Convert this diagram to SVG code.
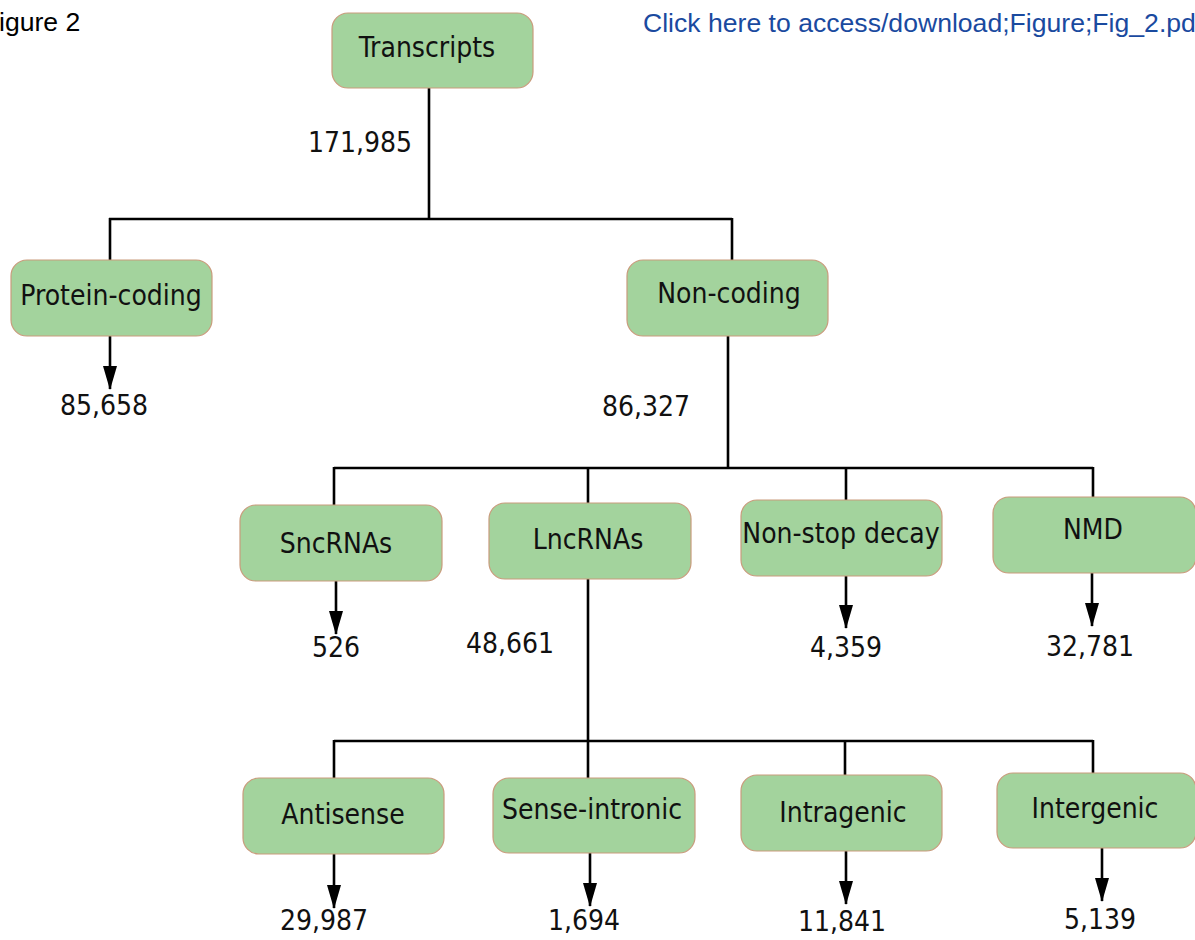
<svg xmlns="http://www.w3.org/2000/svg" width="1195" height="940" viewBox="0 0 1195 940">
<defs>
<style>
.box{fill:#a3d39d;stroke:#c99b7c;stroke-width:1.2}
.lbl{font-family:'DejaVu Sans Condensed','DejaVu Sans',sans-serif;font-stretch:condensed;font-size:28px;fill:#111;text-anchor:middle}
.num{font-family:'DejaVu Sans Condensed','DejaVu Sans',sans-serif;font-stretch:condensed;font-size:28px;fill:#111;text-anchor:middle}
.hdr{font-family:'Liberation Sans',Arial,sans-serif;font-size:26.6px}
.ln{fill:none;stroke:#000;stroke-width:2.6}
.ar{fill:none;stroke:#000;stroke-width:2.6;marker-end:url(#ah)}
</style>
<marker id="ah" markerUnits="userSpaceOnUse" markerWidth="24" markerHeight="14" viewBox="0 0 24 14" refX="23" refY="7" orient="auto">
<path d="M0,0 L24,7 L0,14 Z" fill="#000"/>
</marker>
</defs>
<rect width="1195" height="940" fill="#fff"/>
<text class="hdr" x="-1" y="31" fill="#000">igure 2</text>
<text class="hdr" x="643" y="32" fill="#1a4a9f">Click here to access/download;Figure;Fig_2.pd</text>

<g id="connectors">
<path class="ln" d="M429,88 V219 M109,219 H732 M110,218 V260 M732,218 V260"/>
<path class="ar" d="M110,336 V389"/>
<path class="ln" d="M728,336 V468 M334,468 H1093 M334,467 V505 M588,467 V503 M846,467 V500 M1093,467 V497"/>
<path class="ar" d="M336,581 V634"/>
<path class="ln" d="M588,579 V741"/>
<path class="ar" d="M846,576 V628"/>
<path class="ar" d="M1092,573 V626"/>
<path class="ln" d="M334,741 H1093 M334,740 V778 M588,740 V778 M845,740 V775 M1093,740 V773"/>
<path class="ar" d="M334,854 V908"/>
<path class="ar" d="M590,853 V906"/>
<path class="ar" d="M846,851 V904"/>
<path class="ar" d="M1102,848 V901"/>
</g>

<g id="transcripts"><rect class="box" x="332" y="13" width="201" height="75" rx="16"/><text class="lbl" x="427" y="57">Transcripts</text></g>
<text class="num" x="360" y="152">171,985</text>

<g id="protein-coding"><rect class="box" x="11" y="260" width="201" height="76" rx="16"/><text class="lbl" x="111" y="305">Protein-coding</text></g>
<text class="num" x="104" y="415">85,658</text>

<g id="non-coding"><rect class="box" x="627" y="260" width="201" height="76" rx="16"/><text class="lbl" x="729" y="303">Non-coding</text></g>
<text class="num" x="646" y="416">86,327</text>

<g id="sncrnas"><rect class="box" x="240" y="505" width="202" height="76" rx="16"/><text class="lbl" x="336" y="553">SncRNAs</text></g>
<text class="num" x="336" y="657">526</text>

<g id="lncrnas"><rect class="box" x="489" y="503" width="202" height="76" rx="16"/><text class="lbl" x="588" y="549">LncRNAs</text></g>
<text class="num" x="510" y="653">48,661</text>

<g id="non-stop-decay"><rect class="box" x="741" y="500" width="201" height="76" rx="16"/><text class="lbl" x="841" y="543">Non-stop decay</text></g>
<text class="num" x="846" y="657">4,359</text>

<g id="nmd"><rect class="box" x="993" y="497" width="203" height="76" rx="16"/><text class="lbl" x="1093" y="539">NMD</text></g>
<text class="num" x="1090" y="656">32,781</text>

<g id="antisense"><rect class="box" x="243" y="778" width="201" height="76" rx="16"/><text class="lbl" x="343" y="824">Antisense</text></g>
<text class="num" x="324" y="930">29,987</text>

<g id="sense-intronic"><rect class="box" x="493" y="778" width="202" height="75" rx="16"/><text class="lbl" x="592" y="819">Sense-intronic</text></g>
<text class="num" x="584" y="930">1,694</text>

<g id="intragenic"><rect class="box" x="741" y="775" width="201" height="76" rx="16"/><text class="lbl" x="843" y="822">Intragenic</text></g>
<text class="num" x="842" y="931">11,841</text>

<g id="intergenic"><rect class="box" x="997" y="773" width="199" height="75" rx="16"/><text class="lbl" x="1095" y="818">Intergenic</text></g>
<text class="num" x="1100" y="929">5,139</text>
</svg>
